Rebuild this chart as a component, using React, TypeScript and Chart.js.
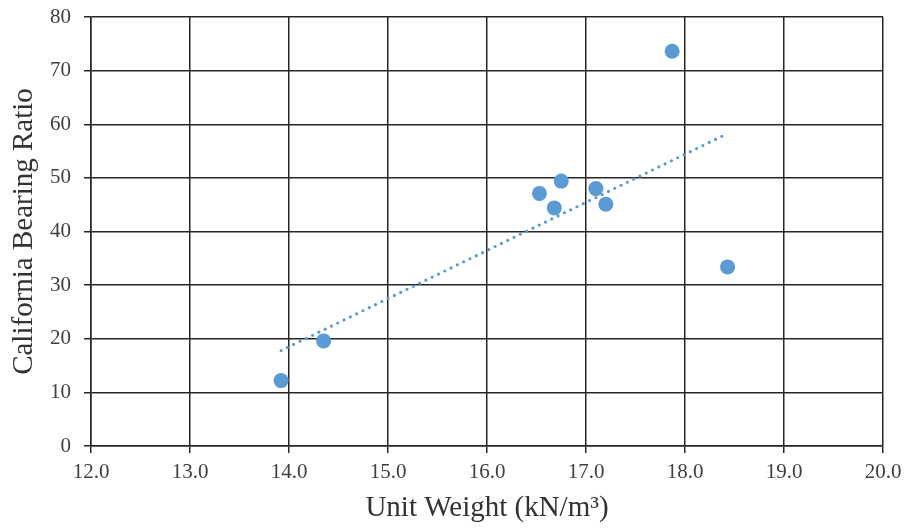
import React, { useEffect, useRef } from "react";
import { Chart, registerables } from "chart.js";

Chart.register(...registerables);

const unitWeight = [13.92, 14.35, 16.53, 16.68, 16.75, 17.1, 17.2, 17.87, 18.43];
const cbr = [12.2, 19.6, 47.1, 44.4, 49.4, 48.0, 45.1, 73.6, 33.4];
const trendX = [13.92, 18.4];
const trendY = [17.8, 58.0];
const xTicks = [12, 13, 14, 15, 16, 17, 18, 19, 20];
const yTicks = [0, 10, 20, 30, 40, 50, 60, 70, 80];

const BLUE = "#5B9BD5";
const FONT = "'Liberation Serif', 'DejaVu Serif', serif";
const GRID = "#262626";

export default function App() {
  const ref = useRef<HTMLCanvasElement>(null);
  useEffect(() => {
    if (!ref.current) return;
    const chart = new Chart(ref.current, {
      type: "scatter",
      data: {
        datasets: [
          {
            label: "Trend",
            type: "line",
            data: trendX.map((x, i) => ({ x, y: trendY[i] })),
            borderColor: BLUE,
            borderWidth: 3.2,
            borderDash: [0, 7],
            borderCapStyle: "round",
            pointRadius: 0,
            fill: false,
            order: 2,
          } as any,
          {
            label: "CBR",
            data: unitWeight.map((x, i) => ({ x, y: cbr[i] })),
            backgroundColor: BLUE,
            borderColor: BLUE,
            pointRadius: 7.5,
            pointBorderWidth: 0,
            order: 1,
          },
        ],
      },
      options: {
        animation: false,
        responsive: false,
        maintainAspectRatio: false,
        layout: { padding: { left: 0, right: 23, top: 17, bottom: 0 }, autoPadding: false },
        plugins: { legend: { display: false }, tooltip: { enabled: false } },
        scales: {
          x: {
            type: "linear",
            min: 12,
            max: 20,
            afterBuildTicks: (axis: any) => {
              axis.ticks = xTicks.map((v) => ({ value: v }));
            },
            afterFit: (axis: any) => {
              axis.height = 531 - 446;
              axis.paddingLeft = 0;
              axis.paddingRight = 0;
            },
            grid: { color: GRID, lineWidth: 1.5, tickLength: 7, tickColor: GRID },
            border: { color: GRID, width: 1.5 },
            ticks: {
              color: "#404040",
              font: { family: FONT, size: 21 },
              padding: 7,
              maxRotation: 0,
              callback: (v: any) => Number(v).toFixed(1),
            },
            title: {
              display: true,
              text: "Unit Weight (kN/m³)",
              color: "#333333",
              font: { family: FONT, size: 29 },
              padding: { top: 0, bottom: 5 },
            },
          },
          y: {
            type: "linear",
            min: 0,
            max: 80,
            afterBuildTicks: (axis: any) => {
              axis.ticks = yTicks.map((v) => ({ value: v }));
            },
            afterFit: (axis: any) => {
              axis.width = 91;
              axis.paddingTop = 0;
              axis.paddingBottom = 0;
            },
            grid: { color: GRID, lineWidth: 1.5, tickLength: 7, tickColor: GRID },
            border: { color: GRID, width: 1.5 },
            ticks: {
              color: "#404040",
              font: { family: FONT, size: 21 },
              padding: 13,
            },
            title: {
              display: true,
              text: "California Bearing Ratio",
              color: "#333333",
              font: { family: FONT, size: 29 },
              padding: { top: 7, bottom: 0 },
            },
          },
        },
      },
    });
    return () => chart.destroy();
  }, []);
  return (
    <div style={{ position: "fixed", left: 0, top: 0, width: 906, height: 531, background: "#fff" }}>
      <canvas ref={ref} width={906} height={531} style={{ width: 906, height: 531 }} />
    </div>
  );
}
